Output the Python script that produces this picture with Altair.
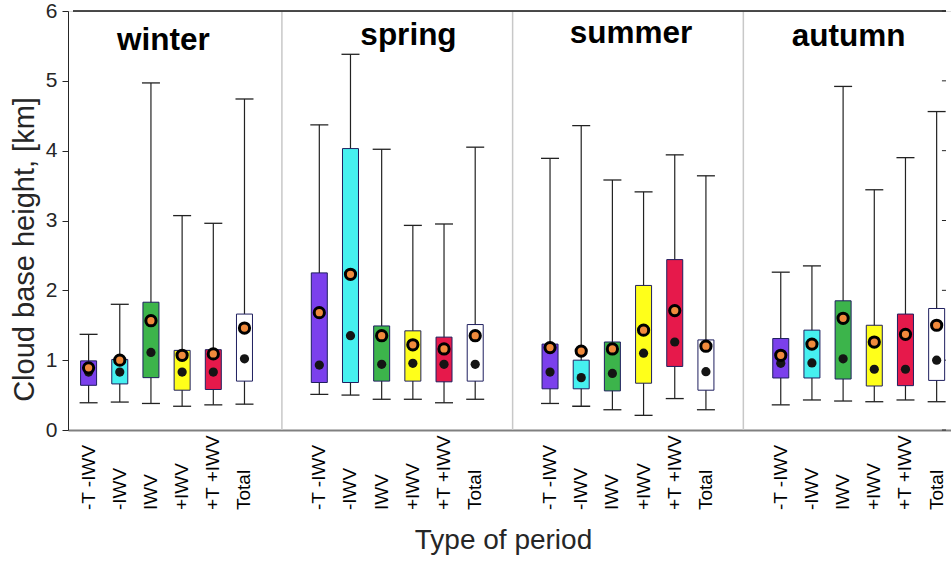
import altair as alt
import pandas as pd

# ---------------- data ----------------
seasons = ["winter", "spring", "summer", "autumn"]
periods = ["-T -IWV", "-IWV", "IWV", "+IWV", "+T +IWV", "Total"]
box_colors = ["#7b40ec", "#46f0f0", "#3cb44b", "#ffff1a", "#e6194b", "#ffffff"]

# values in km, season-major order (winter, spring, summer, autumn) x periods
whisker_low = [0.39, 0.40, 0.38, 0.34, 0.36, 0.37,
               0.51, 0.50, 0.44, 0.44, 0.39, 0.44,
               0.38, 0.34, 0.29, 0.21, 0.45, 0.29,
               0.36, 0.43, 0.415, 0.405, 0.43, 0.405]
q1 = [0.64, 0.66, 0.75, 0.57, 0.58, 0.70,
      0.68, 0.68, 0.70, 0.70, 0.69, 0.70,
      0.59, 0.59, 0.56, 0.67, 0.91, 0.57,
      0.745, 0.745, 0.73, 0.63, 0.635, 0.71]
median = [0.83, 0.83, 1.11, 0.83, 0.83, 1.02,
          0.93, 1.35, 0.94, 0.955, 0.94, 0.94,
          0.83, 0.75, 0.81, 1.10, 1.26, 0.835,
          0.955, 0.96, 1.02, 0.87, 0.87, 1.00]
mean = [0.89, 1.00, 1.565, 1.07, 1.09, 1.46,
        1.68, 2.23, 1.35, 1.22, 1.16, 1.35,
        1.18, 1.13, 1.16, 1.43, 1.71, 1.20,
        1.07, 1.23, 1.60, 1.26, 1.37, 1.50]
q3 = [0.99, 1.01, 1.83, 1.14, 1.15, 1.66,
      2.25, 4.03, 1.49, 1.42, 1.33, 1.51,
      1.23, 1.00, 1.26, 2.07, 2.44, 1.29,
      1.31, 1.43, 1.85, 1.50, 1.66, 1.74]
whisker_high = [1.37, 1.80, 4.97, 3.07, 2.96, 4.74,
                4.37, 5.38, 4.02, 2.93, 2.95, 4.05,
                3.89, 4.36, 3.58, 3.41, 3.94, 3.64,
                2.26, 2.35, 4.92, 3.44, 3.90, 4.56]
y_ticks = [0, 1, 2, 3, 4, 5, 6]

# ---------------- layout (style) ----------------
GROUP = 7.4          # slot distance between the starts of two season groups
X_MIN, X_MAX = 0.5, 28.5
title_nudge = [-0.1, 0.36, 0.1, -0.32]   # horizontal nudge of season titles
title_y = [5.44, 5.51, 5.54, 5.50]
FONT = "Liberation Sans"
DARK = "#262626"

rows = []
k = 0
for s, season in enumerate(seasons):
    for p, period in enumerate(periods):
        rows.append(dict(season=season, period=period, pos=s * GROUP + p + 1,
                         wlo=whisker_low[k], q1=q1[k], med=median[k],
                         mean=mean[k], q3=q3[k], whi=whisker_high[k]))
        k += 1
df = pd.DataFrame(rows)

seps = pd.DataFrame({"x": [s * GROUP + 7.2 for s in range(len(seasons) - 1)]})
titles = pd.DataFrame({"season": seasons,
                       "tx": [s * GROUP + 3.5 + title_nudge[s] for s in range(len(seasons))],
                       "ty": title_y})
yt = pd.DataFrame({"y": y_ticks})

xscale = alt.Scale(domain=[X_MIN, X_MAX], nice=False, zero=False)
yscale = alt.Scale(domain=[0, 6], nice=False, zero=False)

x_axis = alt.Axis(labels=False, ticks=False,
                  domainColor="#808080", domainWidth=2, grid=False,
                  title="Type of period", titleFontSize=28, titleFontWeight="normal",
                  titleColor=DARK, titleX=435, titleY=118, titleAlign="center",
                  titleBaseline="alphabetic")
y_axis = alt.Axis(values=y_ticks, format="d", tickSize=6, tickColor=DARK,
                  labelPadding=5, labelFontSize=21, labelColor=DARK,
                  domainColor=DARK, grid=False,
                  title="Cloud base height, [km]", titleFontSize=29,
                  titleFontWeight="normal", titleColor=DARK, titleAngle=270,
                  titleX=-35, titleY=238, titleAlign="center",
                  titleBaseline="alphabetic")

X = lambda f: alt.X(f, scale=xscale, axis=x_axis)
Y = lambda f: alt.Y(f, scale=yscale, axis=y_axis)

base = alt.Chart(df)

sep_layer = alt.Chart(seps).mark_rule(color="#c8c8c8", strokeWidth=1.5).encode(
    x=X("x:Q"), y=alt.datum(0, scale=yscale, axis=y_axis), y2=alt.datum(6))

top_line = alt.Chart(seps).mark_rule(color="#333333", strokeWidth=1).encode(
    x=alt.datum(X_MIN), x2=alt.datum(X_MAX), y=alt.datum(6))

right_ticks = alt.Chart(yt).mark_rule(color=DARK, strokeWidth=1).encode(
    x=alt.datum(X_MAX - 0.13), x2=alt.datum(X_MAX), y=Y("y:Q"))

whiskers = base.mark_rule(color="#222222", strokeWidth=1.2).encode(
    x=X("pos:Q"), y=Y("wlo:Q"), y2="whi:Q")

boxes = base.mark_bar(size=16, stroke="#1f1f5f", strokeWidth=1, opacity=1).encode(
    x=X("pos:Q"), y=Y("q1:Q"), y2="q3:Q",
    color=alt.Color("period:N", scale=alt.Scale(domain=periods, range=box_colors),
                    legend=None))

cap_lo = base.mark_tick(orient="horizontal", size=18, thickness=1.3,
                        color="#222222", opacity=1).encode(x=X("pos:Q"), y=Y("wlo:Q"))
cap_hi = base.mark_tick(orient="horizontal", size=18, thickness=1.3,
                        color="#222222", opacity=1).encode(x=X("pos:Q"), y=Y("whi:Q"))

med_pts = base.mark_circle(size=85, color="#141414", opacity=1).encode(
    x=X("pos:Q"), y=Y("med:Q"))
mean_pts = base.mark_circle(size=105, color="#f08a3c", stroke="black",
                            strokeWidth=3, opacity=1).encode(x=X("pos:Q"), y=Y("mean:Q"))

period_labels = base.mark_text(fontSize=19, color="black", angle=270, align="left",
                               baseline="middle", font=FONT).encode(
    x=X("pos:Q"), y=alt.value(499), text="period:N")

season_text = alt.Chart(titles).mark_text(fontSize=31.5, fontWeight="bold",
                                          color="black", align="center",
                                          baseline="alphabetic", font=FONT).encode(
    x=X("tx:Q"), y=Y("ty:Q"), text="season:N")

chart = alt.layer(sep_layer, top_line, right_ticks, whiskers, boxes, cap_lo, cap_hi,
                  med_pts, mean_pts, period_labels, season_text).properties(
    width=883, height=419,
    padding={"left": 68, "top": 11, "right": 0, "bottom": 131},
    autosize=alt.AutoSizeParams(type="none"),
    background="white",
).configure_view(stroke=None).configure(font=FONT)

chart.save("out.html", embed_options={"renderer": "svg", "actions": False})
